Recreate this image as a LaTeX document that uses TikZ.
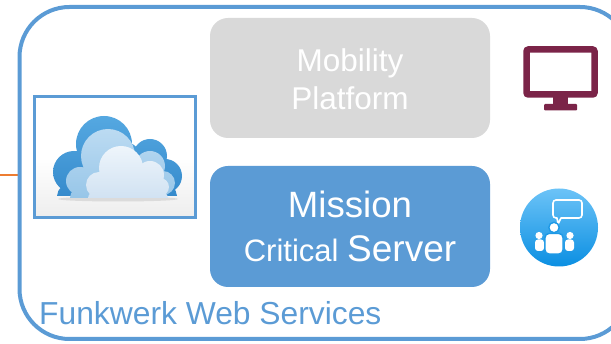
\documentclass[tikz,border=0pt]{standalone}
\usepackage{fontspec}
\setmainfont{Liberation Sans}
\usepackage{xcolor}

\definecolor{fwblue}{HTML}{5B9BD5}
\definecolor{fwgrey}{HTML}{D9D9D9}
\definecolor{fwmaroon}{HTML}{7B2448}
\definecolor{fworange}{HTML}{ED7D31}
\definecolor{iconlight}{HTML}{6CC3F7}
\definecolor{icondark}{HTML}{0B8FE2}
\definecolor{backtop}{HTML}{55A8E1}
\definecolor{backbot}{HTML}{2C82C6}
\definecolor{midtop}{HTML}{BCDBF2}
\definecolor{midbot}{HTML}{8BBFE5}
\definecolor{fronttop}{HTML}{EEF5FB}
\definecolor{frontbot}{HTML}{C9DDF0}

\tikzset{
	panel/.style={rounded corners=18pt, inner sep=0pt, minimum width=280pt},
	paneltext/.style={text=white, inner sep=0pt, anchor=base},
}

\begin{document}
\begin{tikzpicture}[x=1pt,y=-1pt]
				\useasboundingbox (0,0) rectangle (611,344);
				\clip (0,0) rectangle (611,344);
				
				\coordinate (TL) at (19.5,7);
				\coordinate (BR) at (630,339);
				\coordinate (W) at (0,175);
				\coordinate (E) at (17.5,175);
				
				\draw[fworange,line width=1.2] (W) -- (E);
				\draw[fwblue,line width=4,rounded corners=50] (TL) rectangle (BR);
				
				\node (mobility) [panel,fill=fwgrey,minimum height=120pt] at (350,78) {};
				\node (mobtop) [paneltext,font=\fontsize{31.5pt}{38pt}\selectfont] at (350,72) {Mobility};
				\node (mobbot) [paneltext,font=\fontsize{31.5pt}{38pt}\selectfont] at (350,110) {Platform};
				
				\node (mission) [panel,fill=fwblue,minimum height=121pt] at (350,226.5) {};
				\node (misstop) [paneltext,font=\fontsize{36.6pt}{44pt}\selectfont] at (350,218) {Mission};
				\node (missbot) [paneltext] at (350,262) {\fontsize{31pt}{38pt}\selectfont Critical \fontsize{37pt}{44pt}\selectfont Server};
				
				\node (fws) [anchor=base west,inner sep=0pt,text=fwblue,font=\fontsize{31.8pt}{38pt}\selectfont] at (39,325) {Funkwerk Web Services};
				
				\node (cloudbox) [draw=fwblue,line width=3pt,inner sep=0pt,minimum width=161pt,minimum height=121pt,top color=white,bottom color=black!7,middle color=white] at (114.5,157.5) {};
				\fill[black!14] (118,199) ellipse (60 and 2.5);
				\begin{scope}
					\clip (40,100) rectangle (190,196);
					\shade[top color=backtop,bottom color=backbot] (104,144) circle (28) (74,172) circle (21) (118,168) circle (28) (150,156) circle (17) (165,176) circle (17) (117,196) ellipse (60 and 24);
				\end{scope}
				\begin{scope}
					\clip (40,100) rectangle (190,198);
					\shade[top color=midtop,bottom color=midbot] (108,156) circle (27) (80,181) circle (14) (118,175) circle (24) (150,166) circle (15) (163,183) circle (12) (118,198) ellipse (48 and 22);
					\shade[top color=fronttop,bottom color=frontbot] (121,168) circle (22) (99,185) circle (13) (127,183) circle (18) (150,175) circle (14) (160,187) circle (9) (128,198) ellipse (40 and 14);
				\end{scope}
				
				\draw[fwmaroon,line width=6.5,rounded corners=2] (526.5,49.5) rectangle (594.5,94.5);
				\fill[fwmaroon] (553,97) rectangle (568,105);
				\fill[fwmaroon,rounded corners=1] (544,104) rectangle (577,110.5);
				
				\shade[top color=iconlight,bottom color=icondark] (559,227.5) circle (39);
				\draw[white,line width=1.6,line join=round] (561,218) [rounded corners=3] -- (582,218) -- (582,200) -- (553,200) -- (553,218) [sharp corners] -- (557,218) -- (558,224) -- cycle;
				\fill[white] (539,235.5) circle (3.6);
				\fill[white,rounded corners=3] (535,251) -- (535,239.5) -- (544,239.5) -- (544,251) -- cycle;
				\fill[white] (570,235.5) circle (3.6);
				\fill[white,rounded corners=3] (565,251) -- (565,239.5) -- (574,239.5) -- (574,251) -- cycle;
				\fill[white,draw=icondark!80!iconlight,line width=1.4] (554,227.5) circle (5.2);
				\filldraw[fill=white,draw=icondark!80!iconlight,line width=1.4,rounded corners=4] (545,254) -- (545,233.5) -- (563,233.5) -- (563,254) -- cycle;
			\end{tikzpicture}
\end{document}
